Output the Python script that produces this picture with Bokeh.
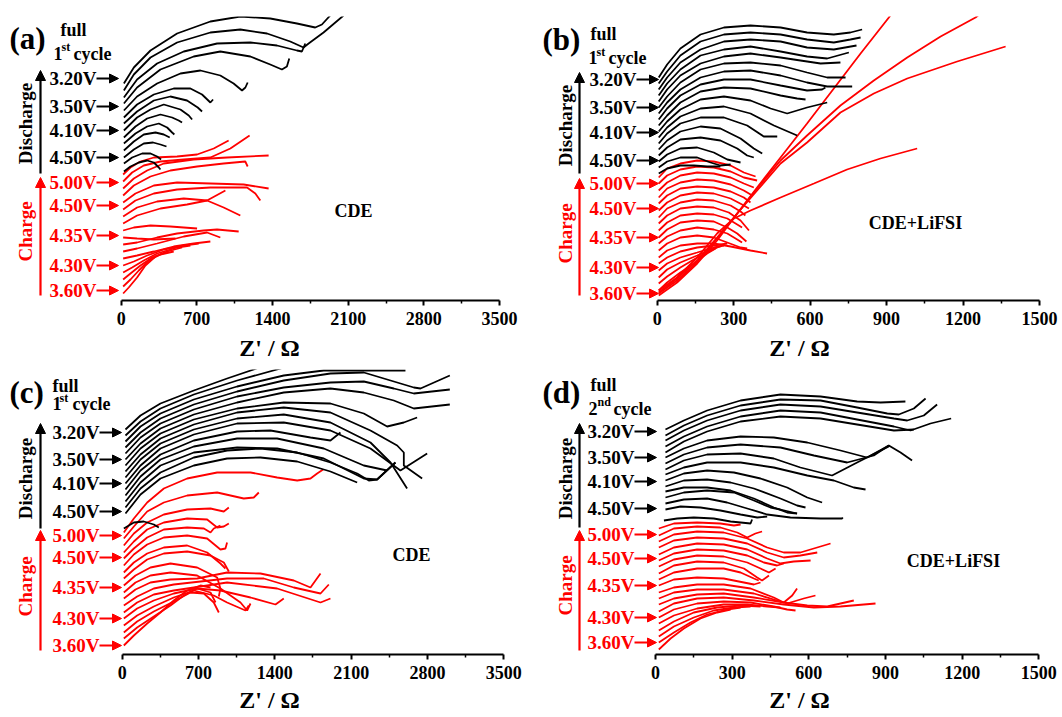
from bokeh.plotting import figure
from bokeh.models import Range1d, FixedTicker, Label, Arrow, NormalHead
from bokeh.layouts import column, row
from bokeh.embed import file_html
from bokeh.resources import INLINE

# ---------------- data ----------------
TICKS_CDE = [0, 700, 1400, 2100, 2800, 3500]
MINOR_CDE = [350, 1050, 1750, 2450, 3150]
TICKS_LIFSI = [0, 300, 600, 900, 1200, 1500]
MINOR_LIFSI = [150, 450, 750, 1050, 1350]

VOLT_DISCHARGE = ["3.20V", "3.50V", "4.10V", "4.50V"]
VOLT_CHARGE = ["5.00V", "4.50V", "4.35V", "4.30V", "3.60V"]
PANEL_TAGS = ["(a)", "(b)", "(c)", "(d)"]
CYCLE_NUM = ["1", "1", "1", "2"]
CYCLE_SUP = ["st", "st", "st", "nd"]
SAMPLES = ["CDE", "CDE+LiFSI", "CDE", "CDE+LiFSI"]
X_TITLE = "Z' / \u03a9"

# Z' (ohm) and stacked -Z'' (offset units) for every spectrum
A_DIS_X = [
    [25, 117, 271, 517, 825, 1102, 1379, 1626, 1795, 1857, 1934],
    [25, 117, 271, 517, 825, 1102, 1349, 1564, 1687, 1734, 1872, 2057],
    [25, 147, 332, 579, 887, 1195, 1441, 1626, 1672, 1703],
    [25, 147, 363, 671, 917, 1195, 1379, 1487, 1533, 1555],
    [25, 147, 332, 548, 733, 917, 1040, 1118, 1149, 1170],
    [25, 147, 302, 486, 640, 748, 825, 850],
    [25, 147, 302, 455, 609, 708, 748],
    [25, 147, 271, 394, 548, 625, 656],
    [25, 132, 240, 363, 471, 532, 563],
    [25, 132, 240, 348, 425, 471, 492],
    [25, 117, 209, 317, 394, 449],
    [25, 117, 209, 295, 363, 419],
    [25, 101, 194, 271, 332, 369],
    [25, 86, 163, 240, 302, 348, 363],
]
A_DIS_Y = [
    [217, 233, 250, 267, 279, 284, 282, 277, 273, 276, 285],
    [210, 226, 243, 258, 268, 271, 267, 259, 253, 257, 268, 285],
    [203, 221, 237, 249, 257, 258, 255, 250, 249, 257],
    [197, 213, 231, 244, 249, 244, 236, 231, 234, 242],
    [190, 204, 217, 227, 230, 225, 217, 210, 213, 218],
    [183, 196, 206, 212, 212, 206, 198, 201],
    [177, 189, 200, 204, 200, 193, 189],
    [170, 183, 191, 196, 191, 185, 181],
    [163, 174, 182, 186, 183, 180, 178],
    [157, 167, 174, 177, 173, 168, 166],
    [150, 159, 166, 168, 166, 163],
    [143, 151, 157, 158, 156, 154],
    [137, 143, 147, 147, 144, 141],
    [129, 134, 138, 140, 138, 133, 131],
]
A_CHG_X = [
    [18, 86, 178, 302, 517, 702, 856, 994],
    [18, 101, 209, 363, 579, 825, 1010, 1188],
    [18, 117, 240, 394, 671, 979, 1364],
    [18, 117, 271, 455, 702, 948, 1148, 1170],
    [18, 132, 302, 517, 825, 1133, 1364],
    [18, 132, 302, 517, 825, 1164, 1241, 1287],
    [18, 147, 332, 579, 794, 948, 1102],
    [18, 147, 363, 609, 794, 964],
    [18, 117, 271, 455, 702],
    [18, 147, 302, 502],
    [18, 147, 332, 517, 763, 887, 1087],
    [18, 147, 332, 579, 794, 917],
    [18, 147, 302, 486, 671, 825],
    [18, 117, 240, 394, 579, 717],
    [18, 101, 209, 332, 517, 640],
    [18, 86, 178, 286, 425, 563],
    [18, 86, 163, 255, 363, 486],
    [18, 70, 147, 224, 317, 409],
]
A_CHG_Y = [
    [126, 133, 139, 143, 144, 146, 152, 160],
    [119, 128, 135, 139, 141, 143, 152, 165],
    [112, 122, 130, 137, 141, 143, 145],
    [105, 115, 124, 130, 134, 137, 139, 134],
    [98, 107, 115, 118, 117, 116, 112],
    [91, 100, 107, 111, 113, 113, 107, 100],
    [84, 93, 99, 102, 100, 93, 85],
    [77, 85, 92, 96, 100, 110],
    [70, 73, 75, 74, 72],
    [63, 62, 61, 62],
    [56, 58, 63, 67, 70, 71, 69],
    [49, 52, 57, 64, 68, 63],
    [42, 45, 49, 54, 57, 59],
    [35, 39, 45, 51, 55, 57],
    [28, 33, 40, 47, 53, 55],
    [21, 27, 35, 43, 49, 53],
    [14, 21, 30, 40, 46, 49],
    [7, 13, 23, 35, 44, 48],
]

B_DIS_X = [
    [6, 39, 91, 170, 262, 366, 484, 588, 693, 758, 804],
    [6, 39, 91, 170, 262, 366, 484, 588, 693, 758, 798],
    [6, 39, 91, 170, 262, 366, 484, 588, 693, 782],
    [6, 39, 91, 170, 262, 366, 484, 588, 667, 752],
    [6, 39, 91, 170, 262, 366, 484, 562, 641, 719],
    [6, 39, 91, 170, 262, 366, 484, 588, 667, 739],
    [6, 39, 91, 170, 262, 366, 484, 588, 667, 765],
    [6, 39, 91, 170, 262, 366, 484, 588, 647, 660],
    [6, 39, 91, 170, 262, 366, 484, 549, 582],
    [6, 39, 91, 170, 262, 366, 445, 510, 588, 667],
    [6, 39, 91, 170, 262, 366, 458, 549],
    [6, 39, 91, 170, 262, 353, 418, 471],
    [6, 39, 91, 170, 248, 327, 379, 412],
    [6, 39, 91, 170, 248, 314, 353, 379],
    [6, 39, 91, 157, 222, 275, 327],
    [6, 39, 91, 157, 209, 248, 288],
    [6, 39, 91, 144, 196, 248],
]
B_DIS_Y = [
    [223, 236, 252, 266, 273, 275, 273, 268, 266, 268, 271],
    [217, 229, 245, 259, 266, 268, 266, 261, 258, 261, 263],
    [211, 223, 238, 251, 259, 261, 259, 253, 251, 255],
    [205, 217, 231, 245, 251, 254, 249, 244, 242, 248],
    [199, 211, 225, 237, 244, 247, 243, 240, 237, 238],
    [193, 204, 218, 231, 237, 238, 235, 228, 223, 223],
    [187, 198, 211, 223, 229, 230, 225, 218, 214, 214],
    [181, 192, 205, 216, 221, 221, 215, 210, 211, 213],
    [175, 185, 198, 209, 213, 212, 205, 202, 201],
    [169, 179, 191, 201, 204, 200, 192, 187, 193, 198],
    [163, 173, 184, 192, 194, 187, 175, 165],
    [157, 167, 177, 183, 183, 175, 164, 164],
    [151, 160, 169, 174, 172, 162, 152, 147],
    [145, 153, 161, 163, 160, 152, 145, 143],
    [139, 146, 152, 153, 148, 141, 138],
    [133, 139, 143, 143, 138, 135, 136],
    [127, 132, 135, 135, 134, 134],
]
B_CHG_X = [
    [6, 39, 91, 157, 222, 288, 340, 386],
    [6, 39, 91, 157, 222, 288, 340, 392],
    [6, 39, 91, 157, 222, 288, 340, 379],
    [6, 39, 91, 157, 222, 288, 340, 373],
    [6, 39, 91, 157, 222, 288, 340, 366],
    [6, 39, 91, 157, 222, 288, 333, 360],
    [6, 39, 91, 157, 222, 288, 327, 346],
    [6, 39, 91, 157, 222, 281, 327, 360],
    [6, 39, 91, 157, 222, 275, 314, 333],
    [6, 39, 91, 157, 222, 275, 314, 350],
    [6, 39, 91, 157, 222, 275, 314, 333],
    [6, 39, 91, 157, 222, 275, 327, 353],
    [6, 39, 91, 157, 222, 288, 366, 431],
    [6, 39, 91, 157, 222, 275],
    [6, 39, 91, 157, 222, 262],
    [6, 39, 91, 157, 209, 248],
    [6, 39, 91, 144, 196, 235],
    [6, 39, 91, 144, 196, 229],
    [6, 78, 157, 235, 314, 392, 484, 588, 693, 798, 909, 929],
    [6, 78, 157, 235, 314, 392, 484, 588, 719, 850, 981, 1112, 1249, 1269],
    [6, 78, 157, 235, 314, 392, 484, 588, 719, 850, 981, 1177, 1367],
    [6, 78, 157, 235, 301, 366, 484, 615, 745, 876, 1020],
]
B_CHG_Y = [
    [123, 132, 137, 140, 139, 135, 128, 124],
    [117, 125, 131, 134, 133, 129, 123, 120],
    [110, 118, 125, 128, 127, 123, 117, 113],
    [103, 112, 118, 121, 120, 116, 110, 105],
    [97, 105, 112, 114, 113, 109, 103, 98],
    [90, 98, 105, 108, 107, 102, 96, 92],
    [83, 92, 98, 101, 100, 95, 89, 85],
    [77, 85, 92, 94, 93, 88, 80, 70],
    [70, 78, 85, 87, 86, 82, 76, 73],
    [63, 71, 78, 80, 79, 73, 67, 59],
    [57, 64, 70, 73, 71, 67, 61, 58],
    [50, 57, 63, 65, 63, 58, 53, 52],
    [43, 50, 55, 57, 57, 54, 50, 47],
    [37, 43, 49, 53, 55, 57],
    [30, 37, 43, 48, 53, 55],
    [23, 31, 38, 45, 51, 54],
    [17, 24, 33, 41, 48, 53],
    [10, 18, 28, 37, 47, 52],
    [5, 18, 37, 60, 87, 113, 143, 177, 212, 247, 283, 290],
    [7, 20, 38, 62, 87, 112, 140, 165, 195, 220, 243, 264, 283, 287],
    [8, 22, 40, 63, 87, 110, 137, 158, 188, 207, 222, 239, 254],
    [10, 23, 43, 67, 82, 90, 103, 117, 131, 142, 152],
]

C_DIS_X = [
    [30, 168, 351, 657, 962, 1207, 1299],
    [30, 168, 351, 657, 1054, 1421, 1482],
    [30, 168, 351, 657, 1054, 1482, 1849, 2598],
    [30, 168, 351, 657, 1054, 1482, 1910, 2216, 2461, 2675, 2736, 3005],
    [30, 168, 351, 657, 1054, 1482, 1910, 2216, 2491, 2675, 3005],
    [30, 168, 351, 657, 1054, 1482, 1910, 2216, 2491, 2675, 3005],
    [30, 168, 351, 657, 1054, 1482, 1910, 2216, 2430, 2583, 2705],
    [30, 168, 351, 657, 1054, 1482, 1910, 2277, 2522, 2583, 2583, 2751],
    [30, 168, 351, 657, 1054, 1482, 1910, 2277, 2461, 2613],
    [30, 168, 351, 657, 1054, 1482, 1910, 2277, 2552, 2797],
    [30, 168, 351, 657, 1054, 1360, 1727, 1910, 2002],
    [30, 168, 351, 657, 1054, 1421, 1849, 2216, 2430],
    [30, 168, 351, 657, 1054, 1421, 1849, 2216, 2338, 2506],
    [30, 168, 351, 657, 962, 1268, 1605, 1910, 2155, 2262, 2338, 2506],
    [30, 168, 351, 657, 962, 1268, 1605, 1910, 2155],
    [15, 107, 198, 290, 336],
]
C_DIS_Y = [
    [225, 239, 251, 264, 276, 285, 289],
    [219, 233, 246, 260, 274, 285, 287],
    [213, 228, 241, 255, 268, 279, 284, 284],
    [207, 222, 236, 250, 263, 274, 281, 282, 274, 267, 266, 279],
    [201, 217, 231, 245, 258, 267, 272, 273, 266, 261, 265],
    [195, 211, 226, 240, 252, 262, 266, 262, 254, 246, 250],
    [189, 206, 221, 235, 246, 252, 251, 241, 228, 232, 237],
    [183, 200, 216, 230, 242, 247, 242, 224, 209, 202, 189, 176],
    [177, 195, 211, 225, 236, 240, 232, 212, 192, 166],
    [171, 189, 206, 220, 231, 232, 224, 206, 184, 201],
    [165, 184, 200, 214, 223, 224, 217, 214, 222],
    [159, 178, 195, 208, 216, 216, 206, 189, 184],
    [153, 172, 189, 202, 207, 206, 196, 176, 175, 192],
    [147, 166, 182, 197, 204, 206, 202, 192, 181, 174, 175, 192],
    [141, 160, 176, 189, 196, 197, 193, 183, 172],
    [126, 132, 133, 130, 127],
]
C_CHG_X = [
    [15, 107, 229, 382, 596, 871, 1177, 1421, 1605, 1727, 1788, 1843],
    [15, 107, 229, 382, 596, 871, 1115, 1207, 1253],
    [15, 107, 229, 382, 596, 810, 932, 978],
    [15, 107, 229, 382, 596, 779, 871, 932, 978],
    [15, 107, 229, 382, 596, 749, 810, 840, 901],
    [15, 107, 229, 382, 596, 779, 901, 947, 962],
    [15, 107, 229, 382, 596, 779, 901, 947],
    [15, 107, 229, 382, 596, 810, 932, 978],
    [15, 122, 259, 443, 687, 871, 901, 886],
    [15, 122, 259, 443, 687, 901, 1085, 1146, 1177],
    [15, 122, 259, 443, 687, 962, 1268, 1574, 1727, 1819],
    [15, 137, 290, 473, 718, 962, 1299, 1574, 1819, 1895],
    [15, 137, 290, 473, 718, 962, 1421, 1819, 1910],
    [15, 137, 290, 473, 687, 901, 1177, 1406, 1482],
    [15, 137, 290, 473, 657, 840, 962, 1131, 1161],
    [15, 137, 290, 473, 626, 749, 840, 886],
    [15, 137, 290, 443, 565, 687, 810, 856],
    [15, 107, 229, 351, 473, 596, 718, 810],
]
C_CHG_Y = [
    [122, 136, 152, 166, 176, 182, 182, 177, 174, 176, 181, 185],
    [116, 128, 143, 152, 159, 162, 156, 157, 162],
    [109, 121, 132, 140, 145, 146, 143, 147],
    [102, 113, 125, 132, 136, 135, 127, 128, 131],
    [96, 106, 117, 125, 127, 126, 122, 126, 129],
    [89, 100, 110, 117, 119, 116, 105, 106, 112],
    [82, 92, 101, 107, 109, 102, 91, 86],
    [76, 85, 95, 101, 103, 99, 92, 83],
    [69, 79, 87, 91, 87, 77, 66, 58],
    [62, 72, 79, 82, 79, 66, 52, 44, 51],
    [56, 65, 72, 75, 76, 82, 81, 74, 67, 81],
    [49, 58, 66, 70, 73, 76, 76, 67, 61, 70],
    [42, 52, 60, 64, 68, 72, 66, 52, 56],
    [36, 46, 54, 61, 66, 64, 57, 50, 56],
    [29, 39, 48, 57, 64, 59, 52, 44, 49],
    [22, 33, 43, 53, 62, 61, 52, 42],
    [16, 27, 38, 49, 59, 66, 62, 52],
    [9, 19, 31, 42, 54, 64, 69, 67],
]

D_DIS_X = [
    [39, 111, 202, 333, 489, 646, 789, 881, 978],
    [39, 111, 202, 333, 489, 646, 789, 907, 952, 1011, 1057],
    [39, 111, 202, 333, 489, 646, 789, 933, 985, 1050, 1102],
    [39, 111, 202, 333, 489, 646, 789, 933, 998, 1076, 1157],
    [39, 111, 202, 333, 489, 646, 789, 933, 1011],
    [39, 111, 202, 333, 463, 594, 724, 828, 913],
    [39, 111, 202, 333, 489, 620, 750, 854, 913, 959, 1004],
    [39, 111, 202, 333, 463, 567, 691, 789, 913],
    [39, 111, 202, 333, 463, 594, 698, 776, 822],
    [39, 111, 202, 307, 411, 515, 594, 652],
    [39, 111, 202, 294, 385, 489, 554, 587],
    [39, 111, 202, 294, 385, 463, 515, 554],
    [39, 111, 202, 307, 385, 450, 489, 554],
    [39, 111, 202, 280, 359, 437, 528, 646, 730, 733],
    [39, 98, 176, 254, 333, 398, 437],
    [33, 85, 150, 228, 294, 372, 378],
]
D_DIS_Y = [
    [225, 234, 244, 254, 260, 258, 253, 252, 253],
    [219, 229, 239, 249, 255, 254, 247, 241, 240, 246, 256],
    [214, 224, 234, 244, 250, 248, 242, 236, 234, 239, 250],
    [208, 218, 228, 238, 244, 242, 235, 228, 224, 231, 236],
    [202, 213, 223, 233, 238, 236, 230, 224, 225],
    [197, 206, 214, 218, 217, 212, 204, 197, 209],
    [191, 200, 207, 210, 207, 199, 192, 199, 209, 202, 194],
    [185, 194, 200, 201, 196, 187, 179, 192, 208],
    [180, 187, 192, 192, 187, 179, 174, 167, 165],
    [174, 181, 184, 182, 176, 167, 157, 152],
    [168, 174, 175, 172, 166, 156, 149, 147],
    [163, 167, 167, 164, 156, 147, 142, 141],
    [157, 162, 164, 162, 154, 147, 145, 141],
    [151, 155, 156, 152, 146, 140, 137, 136, 136, 137],
    [145, 148, 147, 144, 140, 137, 138],
    [134, 136, 137, 136, 133, 131, 135],
]
D_CHG_X = [
    [13, 72, 163, 254, 307, 333],
    [13, 72, 163, 254, 320, 359, 391, 417],
    [13, 72, 163, 267, 359, 437, 502, 567, 685],
    [13, 72, 163, 267, 359, 437, 502, 567, 633],
    [13, 72, 163, 267, 359, 437, 489, 541, 607],
    [13, 72, 163, 267, 359, 424, 476, 502],
    [13, 72, 163, 267, 359, 411, 444, 470],
    [13, 72, 163, 267, 346, 398, 417, 444],
    [13, 72, 163, 267, 333, 385, 404],
    [13, 72, 163, 267, 346, 385, 411],
    [13, 72, 163, 267, 372, 463, 502, 535, 554],
    [13, 72, 163, 267, 385, 489, 515, 580, 626],
    [13, 72, 163, 267, 385, 502, 594, 672, 776],
    [13, 72, 163, 267, 385, 502, 620, 724, 861],
    [13, 72, 163, 267, 372, 463, 515, 548],
    [13, 72, 163, 267, 359, 437, 489],
    [13, 72, 150, 241, 333, 411],
    [13, 72, 150, 228, 307, 372],
    [13, 72, 137, 202, 280, 333],
    [13, 59, 111, 176, 241, 294],
]
D_CHG_Y = [
    [126, 131, 132, 131, 129, 130],
    [119, 126, 128, 127, 122, 117, 121, 123],
    [113, 120, 123, 122, 116, 107, 102, 102, 111],
    [107, 114, 117, 116, 111, 102, 97, 99, 102],
    [100, 107, 111, 110, 105, 96, 91, 93, 94],
    [94, 101, 105, 104, 99, 92, 89, 91],
    [88, 95, 99, 98, 92, 86, 82, 86],
    [81, 89, 93, 92, 86, 77, 74, 79],
    [75, 82, 86, 86, 82, 76, 74],
    [69, 75, 77, 76, 72, 70, 72],
    [62, 67, 70, 70, 66, 57, 52, 59, 66],
    [56, 62, 65, 65, 61, 53, 51, 56, 59],
    [50, 56, 60, 61, 57, 52, 49, 48, 54],
    [43, 51, 56, 57, 54, 50, 47, 48, 51],
    [37, 45, 51, 53, 52, 48, 45, 44],
    [31, 39, 46, 50, 50, 48, 47],
    [24, 33, 42, 47, 49, 48],
    [18, 28, 37, 44, 47, 48],
    [12, 22, 32, 40, 45, 47],
    [5, 16, 26, 36, 42, 45],
]

# ---------------- layout (page pixels) ----------------
FONT = "Liberation Serif"
RED = "#ff0000"
BLACK = "#000000"

LAYOUTS = [
    dict(left=0, top=0, w=538, h=366, ftop=16, axis=300, x0=120.7, sc=9.2519, zst=7,
         tag=(9, 38), full=(60, 29), num=(53, 53), sup=(61, 46), cyc=(73, 53),
         vx=49, arr=(96, 118), vb=[78, 106, 130, 157], vr=[182, 205, 235, 265, 290],
         ax=40, ab=(173, 70), aR=(295, 177), dis=(25, 123), chg=(25, 231),
         samp=(353, 210)),
    dict(left=538, top=0, w=522, h=366, ftop=16, axis=300, x0=656.7, sc=3.9236, zst=7,
         tag=(542, 39), full=(590, 33), num=(588, 57), sup=(596, 51), cyc=(608, 57),
         vx=589, arr=(636, 658), vb=[79, 107, 132, 160], vr=[183, 208, 237, 267, 293],
         ax=579, ab=(173, 72), aR=(295, 178), dis=(565, 125), chg=(565, 233),
         samp=(915, 222)),
    dict(left=0, top=366, w=538, h=351, ftop=369, axis=654, x0=121.7, sc=9.172, zst=5,
         tag=(9, 392), full=(52, 385), num=(52, 403), sup=(59, 397), cyc=(72, 403),
         vx=52, arr=(99, 121), vb=[432, 459, 483, 511], vr=[535, 557, 587, 618, 645],
         ax=40, ab=(528, 423), aR=(650, 530), dis=(25, 478), chg=(25, 586),
         samp=(411, 554)),
    dict(left=538, top=366, w=522, h=351, ftop=369, axis=654, x0=655.0, sc=3.9134, zst=5,
         tag=(542, 392), full=(590, 384), num=(588, 408), sup=(597, 401), cyc=(613, 408),
         vx=587, arr=(634, 656), vb=[431, 457, 481, 508], vr=[534, 558, 585, 617, 642],
         ax=579, ab=(527, 423), aR=(650, 530), dis=(565, 478), chg=(565, 585),
         samp=(953, 560)),
]


def build(i, L, ticks, minor, dis, chg):
    def X(px):
        return (px - L["x0"]) * L["sc"]

    def Y(py):
        return L["axis"] - py

    p = figure(width=L["w"], height=L["h"], title=None,
               x_range=Range1d(X(L["left"]), X(L["left"] + L["w"])),
               y_range=Range1d(0, L["axis"] - L["ftop"]),
               output_backend="svg", toolbar_location=None, y_axis_location=None,
               min_border_left=0, min_border_right=0,
               min_border_top=L["ftop"] - L["top"],
               min_border_bottom=L["top"] + L["h"] - L["axis"],
               outline_line_color=None, background_fill_color="white",
               border_fill_color="white")
    p.xgrid.visible = False
    p.ygrid.visible = False
    a = p.xaxis[0]
    a.ticker = FixedTicker(ticks=ticks, minor_ticks=minor)
    a.bounds = (ticks[0], ticks[-1])
    a.axis_line_width = 2
    a.axis_line_color = BLACK
    a.major_tick_line_width = 2
    a.major_tick_line_color = BLACK
    a.major_tick_in = 0
    a.major_tick_out = 5
    a.minor_tick_line_width = 1.5
    a.minor_tick_line_color = BLACK
    a.minor_tick_in = 0
    a.minor_tick_out = 3
    a.major_label_standoff = 6
    a.major_label_text_font = FONT
    a.major_label_text_font_style = "bold"
    a.major_label_text_font_size = "18px"
    a.major_label_text_color = BLACK
    a.axis_label = X_TITLE
    a.axis_label_standoff = L["zst"]
    a.axis_label_text_font = FONT
    a.axis_label_text_font_style = "bold"
    a.axis_label_text_font_size = "24px"
    a.axis_label_text_color = BLACK

    p.multi_line(xs=chg[0], ys=chg[1], line_color=RED, line_width=1.8)
    p.multi_line(xs=dis[0], ys=dis[1], line_color=BLACK, line_width=1.8)

    def lab(px, py, text, size, color=BLACK, align="left", angle=0.0, style="bold"):
        p.add_layout(Label(x=X(px), y=Y(py), text=text, text_font=FONT,
                           text_font_style=style, text_font_size=size,
                           text_color=color, text_align=align,
                           text_baseline="middle", angle=angle))

    lab(L["tag"][0], L["tag"][1], PANEL_TAGS[i], "31px")
    lab(L["full"][0], L["full"][1], "full", "18px")
    lab(L["num"][0], L["num"][1], CYCLE_NUM[i], "18px")
    lab(L["sup"][0], L["sup"][1], CYCLE_SUP[i], "12px")
    lab(L["cyc"][0], L["cyc"][1], "cycle", "18px")

    for txt, py in zip(VOLT_DISCHARGE, L["vb"]):
        lab(L["vx"], py, txt, "19px", BLACK)
        p.add_layout(Arrow(x_start=X(L["arr"][0]), y_start=Y(py), x_end=X(L["arr"][1]), y_end=Y(py),
                           line_color=BLACK, line_width=2.2,
                           end=NormalHead(size=9, fill_color=BLACK, line_color=BLACK, line_width=1)))
    for txt, py in zip(VOLT_CHARGE, L["vr"]):
        lab(L["vx"], py, txt, "19px", RED)
        p.add_layout(Arrow(x_start=X(L["arr"][0]), y_start=Y(py), x_end=X(L["arr"][1]), y_end=Y(py),
                           line_color=RED, line_width=2.2,
                           end=NormalHead(size=9, fill_color=RED, line_color=RED, line_width=1)))

    p.add_layout(Arrow(x_start=X(L["ax"]), y_start=Y(L["ab"][0]), x_end=X(L["ax"]), y_end=Y(L["ab"][1]),
                       line_color=BLACK, line_width=2.2,
                       end=NormalHead(size=10, fill_color=BLACK, line_color=BLACK, line_width=1)))
    p.add_layout(Arrow(x_start=X(L["ax"]), y_start=Y(L["aR"][0]), x_end=X(L["ax"]), y_end=Y(L["aR"][1]),
                       line_color=RED, line_width=2.2,
                       end=NormalHead(size=10, fill_color=RED, line_color=RED, line_width=1)))

    lab(L["dis"][0], L["dis"][1], "Discharge", "19px", BLACK, "center", 1.5708)
    lab(L["chg"][0], L["chg"][1], "Charge", "19px", RED, "center", 1.5708)
    lab(L["samp"][0], L["samp"][1], SAMPLES[i], "18px", BLACK, "center")
    return p


pa = build(0, LAYOUTS[0], TICKS_CDE, MINOR_CDE, (A_DIS_X, A_DIS_Y), (A_CHG_X, A_CHG_Y))
pb = build(1, LAYOUTS[1], TICKS_LIFSI, MINOR_LIFSI, (B_DIS_X, B_DIS_Y), (B_CHG_X, B_CHG_Y))
pc = build(2, LAYOUTS[2], TICKS_CDE, MINOR_CDE, (C_DIS_X, C_DIS_Y), (C_CHG_X, C_CHG_Y))
pd = build(3, LAYOUTS[3], TICKS_LIFSI, MINOR_LIFSI, (D_DIS_X, D_DIS_Y), (D_CHG_X, D_CHG_Y))

layout = column(row(pa, pb), row(pc, pd))
open("out.html", "w").write(file_html(layout, INLINE))
